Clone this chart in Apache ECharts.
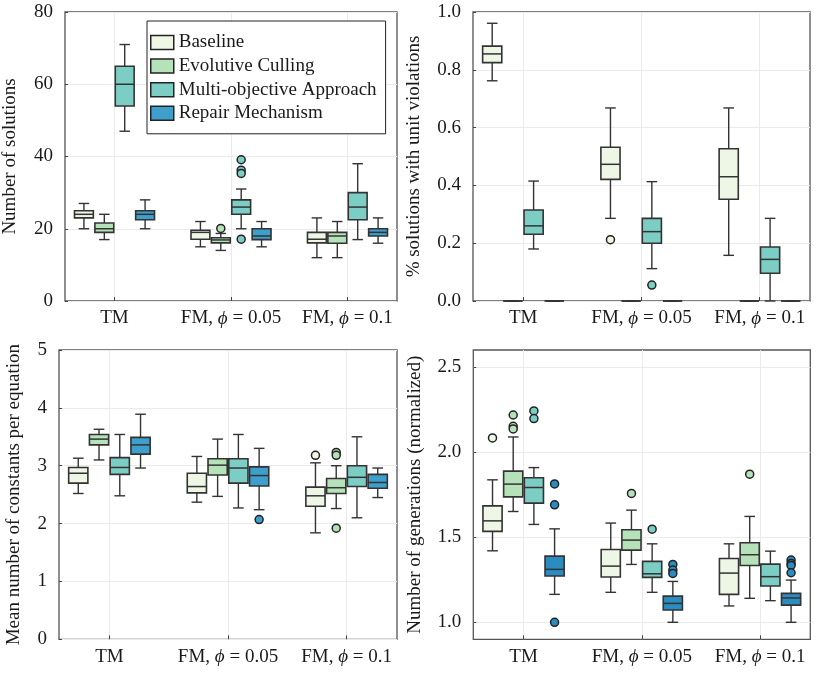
<!DOCTYPE html>
<html>
<head>
<meta charset="utf-8">
<script src="https://cdn.jsdelivr.net/npm/echarts@6/dist/echarts.min.js"></script>
<style>
html,body{margin:0;padding:0;background:#fff;}
#main{width:822px;height:677px;}
</style>
</head>
<body>
<div id="main"></div>
<script>
// ---------- DATA ----------
const categories = ['TM', 'FM, ϕ = 0.05', 'FM, ϕ = 0.1'];
const methods = ['Baseline', 'Evolutive Culling', 'Multi-objective Approach', 'Repair Mechanism'];
const yTitles = ['Number of solutions', '% solutions with unit violations',
                 'Mean number of constants per equation', 'Number of generations (normalized)'];

// each row: [min, q1, median, q3, max] for TM, FM φ=0.05, FM φ=0.1
const solBaseline = [[20, 23, 24, 25, 27], [15, 17.1, 19, 19.6, 22], [12, 16.1, 17.1, 19, 23]];
const solCulling  = [[17, 19, 20, 21.6, 24], [14, 16.1, 16.9, 17.5, 18.7], [12, 16, 18, 19, 22]];
const solMulti    = [[47, 54, 60, 65, 71], [20, 24, 26, 28, 31], [17, 22.5, 26, 30, 38]];
const solRepair   = [[20, 22.5, 24, 25, 28], [15, 17, 18, 20, 22], [16, 18, 19, 20, 23]];
// outliers: [categoryIndex, value]
const solOutBaseline = [];
const solOutCulling  = [[1, 20.1]];
const solOutMulti    = [[1, 39.1], [1, 36.2], [1, 35.3], [1, 17.1]];
const solOutRepair   = [];

const vioBaseline = [[0.762, 0.825, 0.855, 0.882, 0.961], [0.286, 0.421, 0.473, 0.532, 0.668], [0.158, 0.352, 0.43, 0.527, 0.668]];
const vioCulling  = [[0, 0, 0, 0, 0], [0, 0, 0, 0, 0], [0, 0, 0, 0, 0]];
const vioMulti    = [[0.18, 0.231, 0.26, 0.315, 0.415], [0.112, 0.2, 0.24, 0.286, 0.413], [0, 0.096, 0.144, 0.187, 0.286]];
const vioRepair   = [[0, 0, 0, 0, 0], [0, 0, 0, 0, 0], [0, 0, 0, 0, 0]];
const vioOutBaseline = [[1, 0.212]];
const vioOutCulling  = [];
const vioOutMulti    = [[1, 0.055]];
const vioOutRepair   = [];

const conBaseline = [[2.52, 2.70, 2.87, 2.97, 3.13], [2.37, 2.53, 2.64, 2.87, 3.16], [1.84, 2.30, 2.48, 2.63, 3.05]];
const conCulling  = [[3.10, 3.36, 3.46, 3.54, 3.63], [2.47, 2.84, 3.01, 3.12, 3.46], [2.26, 2.52, 2.62, 2.78, 3.0]];
const conMulti    = [[2.48, 2.85, 2.97, 3.14, 3.54], [2.27, 2.70, 2.96, 3.12, 3.54], [2.10, 2.64, 2.80, 3.0, 3.5]];
const conRepair   = [[2.96, 3.2, 3.36, 3.49, 3.89], [2.24, 2.65, 2.83, 2.98, 3.30], [2.45, 2.61, 2.71, 2.85, 2.96]];
const conOutBaseline = [[2, 3.18]];
const conOutCulling  = [[2, 3.23], [2, 3.18], [2, 1.92]];
const conOutMulti    = [];
const conOutRepair   = [[1, 2.07]];

const genBaseline = [[1.42, 1.534, 1.596, 1.684, 1.837], [1.176, 1.266, 1.33, 1.428, 1.583], [1.096, 1.164, 1.289, 1.375, 1.461]];
const genCulling  = [[1.651, 1.737, 1.812, 1.888, 2.089], [1.34, 1.424, 1.483, 1.544, 1.659], [1.141, 1.334, 1.397, 1.467, 1.622]];
const genMulti    = [[1.575, 1.70, 1.792, 1.849, 1.909], [1.176, 1.264, 1.285, 1.358, 1.461], [1.127, 1.213, 1.268, 1.342, 1.418]];
const genRepair   = [[1.164, 1.272, 1.311, 1.389, 1.549], [1.0, 1.072, 1.111, 1.154, 1.24], [1.0, 1.101, 1.143, 1.17, 1.248]];
const genOutBaseline = [[0, 2.083]];
const genOutCulling  = [[0, 2.218], [0, 2.152], [0, 2.136], [1, 1.757], [2, 1.87]];
const genOutMulti    = [[0, 2.242], [0, 2.197], [1, 1.547]];
const genOutRepair   = [[0, 1.813], [0, 1.69], [0, 1.0], [1, 1.34], [1, 1.307], [1, 1.287],
                        [2, 1.366], [2, 1.346], [2, 1.334], [2, 1.291]];

const yMin = [0, 0, 0, 0.9];
const yMax = [80, 1, 5, 2.6];
const yTicks = [[0, 20, 40, 60, 80], [0, 0.2, 0.4, 0.6, 0.8, 1.0], [0, 1, 2, 3, 4, 5], [1.0, 1.5, 2.0, 2.5]];
const yDecimals = [0, 1, 0, 1];

// ---------- STYLE ----------
const panelBoxes = [
  [solBaseline, solCulling, solMulti, solRepair],
  [vioBaseline, vioCulling, vioMulti, vioRepair],
  [conBaseline, conCulling, conMulti, conRepair],
  [genBaseline, genCulling, genMulti, genRepair]
];
const panelOutliers = [
  [solOutBaseline, solOutCulling, solOutMulti, solOutRepair],
  [vioOutBaseline, vioOutCulling, vioOutMulti, vioOutRepair],
  [conOutBaseline, conOutCulling, conOutMulti, conOutRepair],
  [genOutBaseline, genOutCulling, genOutMulti, genOutRepair]
];
const colors = ['#eef7e6', '#b5e2b8', '#7ccdc4', '#3e9ecc'];
const panelColors = [colors, colors, colors, ['#eef7e6', '#b5e2b8', '#7ccdc4', '#2b8cc1']];
const offsets = [-0.2625, -0.0875, 0.0875, 0.2625];
const BOX_W = 0.162, CAP_W = 0.09;
const FONT = 'Liberation Serif';
const FS = 19;
const INK = '#1a1a1a';
const grids = [
  {left: 59.3, top: 12, width: 337.7, height: 289},
  {left: 473, top: 12, width: 337, height: 289},
  {left: 59, top: 350, width: 338, height: 289.3},
  {left: 473.3, top: 350, width: 337, height: 289.3}
];
const nameGaps = [45, 49, 35, 49];

function renderBox(params, api) {
  const x = api.value(0);
  const pMin = api.coord([x, api.value(1)]);
  const pQ1 = api.coord([x, api.value(2)]);
  const pMed = api.coord([x, api.value(3)]);
  const pQ3 = api.coord([x, api.value(4)]);
  const pMax = api.coord([x, api.value(5)]);
  const hw = api.size([BOX_W, 0])[0] / 2;
  const cw = api.size([CAP_W, 0])[0] / 2;
  const cx = pMed[0];
  const fill = api.visual('color');
  const ls = {stroke: '#333', lineWidth: 1.4, fill: null};
  return {
    type: 'group',
    children: [
      {type: 'line', shape: {x1: cx, y1: pQ3[1], x2: cx, y2: pMax[1]}, style: ls},
      {type: 'line', shape: {x1: cx, y1: pQ1[1], x2: cx, y2: pMin[1]}, style: ls},
      {type: 'line', shape: {x1: cx - cw, y1: pMax[1], x2: cx + cw, y2: pMax[1]}, style: ls},
      {type: 'line', shape: {x1: cx - cw, y1: pMin[1], x2: cx + cw, y2: pMin[1]}, style: ls},
      {type: 'rect', shape: {x: cx - hw, y: pQ3[1], width: 2 * hw, height: pQ1[1] - pQ3[1]},
        style: {fill: fill, stroke: '#333', lineWidth: 1.6}},
      {type: 'line', shape: {x1: cx - hw, y1: pMed[1], x2: cx + hw, y2: pMed[1]},
        style: {stroke: '#333', lineWidth: 1.5}}
    ]
  };
}

const xAxes = [], yAxes = [], series = [];
for (let p = 0; p < 4; p++) {
  xAxes.push({
    type: 'value', gridIndex: p, min: 0.575, max: 3.425,
    axisLine: {show: false},
    axisTick: {show: true, inside: true, length: 4, customValues: [1, 2, 3],
               lineStyle: {color: '#444', width: 1}},
    axisLabel: {customValues: [1, 2, 3], margin: 8, color: INK, fontFamily: FONT, fontSize: FS,
      formatter: v => categories[Math.round(v) - 1].replace('ϕ', '{i|ϕ}'),
      rich: {i: {fontStyle: 'italic', fontFamily: FONT, fontSize: FS, color: INK}}},
    splitLine: {show: true, lineStyle: {color: '#ebebeb', width: 1}}
  });
  yAxes.push({
    type: 'value', gridIndex: p, min: yMin[p], max: yMax[p],
    name: yTitles[p], nameLocation: 'middle', nameRotate: 90, nameGap: nameGaps[p],
    nameTextStyle: {fontFamily: FONT, fontSize: FS, color: INK},
    axisLine: {show: false},
    axisTick: {show: true, inside: true, length: 3, customValues: yTicks[p],
               lineStyle: {color: '#444', width: 1}},
    axisLabel: {customValues: yTicks[p], margin: 12, color: INK, fontFamily: FONT, fontSize: FS,
      formatter: v => v.toFixed(yDecimals[p])},
    splitLine: {show: true, lineStyle: {color: '#ebebeb', width: 1}}
  });
  for (let m = 0; m < 4; m++) {
    const boxes = panelBoxes[p][m].map((b, c) => [c + 1 + offsets[m]].concat(b));
    series.push({
      type: 'custom', name: methods[m], xAxisIndex: p, yAxisIndex: p,
      itemStyle: {color: panelColors[p][m]},
      renderItem: renderBox, data: boxes, z: 2,
      encode: {x: 0, y: [1, 2, 3, 4, 5]}
    });
    const outs = panelOutliers[p][m].map(o => [o[0] + 1 + offsets[m], o[1]]);
    if (outs.length) {
      series.push({
        type: 'scatter', xAxisIndex: p, yAxisIndex: p, data: outs, z: 3,
        symbol: 'circle', symbolSize: 8,
        itemStyle: {color: panelColors[p][m], borderColor: '#222', borderWidth: 1.5, opacity: 1}
      });
    }
  }
}

const chart = echarts.init(document.getElementById('main'), null, {renderer: 'canvas'});
chart.setOption({
  animation: false,
  backgroundColor: '#fff',
  grid: grids.map(g => Object.assign({show: true, borderColor: '#555', borderWidth: 1.3,
                                     backgroundColor: 'transparent'}, g)),
  xAxis: xAxes,
  yAxis: yAxes,
  legend: {
    orient: 'vertical', left: 147, top: 21,
    backgroundColor: '#fff', borderColor: '#222', borderWidth: 1,
    padding: [12, 9, 11, 3], itemGap: 4.6, itemWidth: 23, itemHeight: 14,
    icon: 'rect',
    textStyle: {fontFamily: FONT, fontSize: FS, color: INK, lineHeight: 14},
    data: methods.map((n, i) => ({name: n, itemStyle: {color: colors[i], borderColor: '#222', borderWidth: 1.5}}))
  },
  series: series
});
</script>
</body>
</html>
